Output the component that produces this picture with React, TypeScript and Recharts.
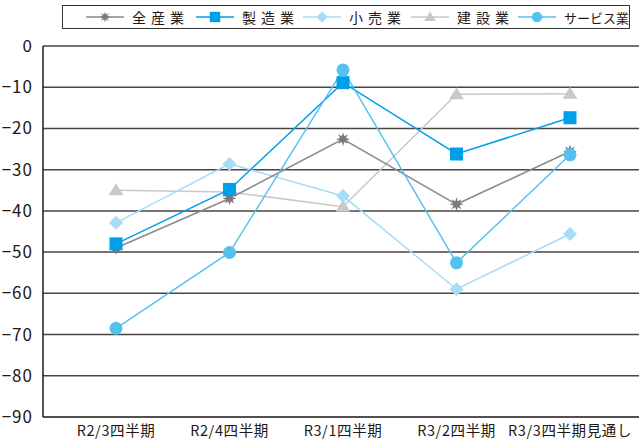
import React from 'react';
import { LineChart, Line, XAxis, YAxis, CartesianGrid } from 'recharts';

const categories = ['R2/3四半期', 'R2/4四半期', 'R3/1四半期', 'R3/2四半期', 'R3/3四半期見通し'];
const allIndustry = [-49, -37, -22.6, -38.4, -25.6];
const manufacturing = [-48, -34.8, -8.9, -26.2, -17.4];
const retail = [-42.9, -28.6, -36.4, -59, -45.6];
const construction = [-35, -35.4, -39, -11.7, -11.6];
const services = [-68.5, -50.1, -5.8, -52.6, -26.4];
const yTicks = [0, -10, -20, -30, -40, -50, -60, -70, -80, -90];

const seriesNames = ['全産業', '製造業', '小売業', '建設業', 'サービス業'];

const data = categories.map((c, i) => ({
  name: c,
  all: allIndustry[i],
  manu: manufacturing[i],
  retail: retail[i],
  cons: construction[i],
  serv: services[i],
}));

const FONT = '"Noto Sans CJK JP", "Noto Sans", sans-serif';

function Marker({ kind, cx, cy, color, s = 1 }: { kind: string; cx: number; cy: number; color: string; s?: number }) {
  if (kind === 'star') {
    const pts: string[] = [];
    for (let k = 0; k < 16; k++) {
      const r = (k % 2 === 0 ? 7 : 3.2) * s;
      const a = (Math.PI * k) / 8;
      pts.push(`${cx + r * Math.sin(a)},${cy - r * Math.cos(a)}`);
    }
    return <polygon points={pts.join(' ')} fill={color} />;
  }
  if (kind === 'square') return <rect x={cx - 6.5 * s} y={cy - 6.5 * s} width={13 * s} height={13 * s} fill={color} />;
  if (kind === 'diamond')
    return (
      <polygon
        points={`${cx},${cy - 7 * s} ${cx + 7 * s},${cy} ${cx},${cy + 7 * s} ${cx - 7 * s},${cy}`}
        fill={color}
      />
    );
  if (kind === 'triangle')
    return (
      <polygon
        points={`${cx},${cy - 7 * s} ${cx + 7.5 * s},${cy + 5 * s} ${cx - 7.5 * s},${cy + 5 * s}`}
        fill={color}
      />
    );
  return <circle cx={cx} cy={cy} r={6.5 * s} fill={color} />;
}

const series = [
  { key: 'all', name: seriesNames[0], line: '#8a8a8a', mark: '#7a7a7a', kind: 'star' },
  { key: 'manu', name: seriesNames[1], line: '#00a0e9', mark: '#00a0e9', kind: 'square' },
  { key: 'retail', name: seriesNames[2], line: '#a6dcf5', mark: '#a6dcf5', kind: 'diamond' },
  { key: 'cons', name: seriesNames[3], line: '#c9c9c9', mark: '#c9c9c9', kind: 'triangle' },
  { key: 'serv', name: seriesNames[4], line: '#55c1ef', mark: '#55c1ef', kind: 'circle' },
];

const drawOrder = ['cons', 'retail', 'all', 'manu', 'serv'];

const fmt = (v: number) => (v < 0 ? '−' + Math.abs(v) : String(v));

function LegendBox() {
  const itemLefts = [23, 133, 240, 348, 455];
  return (
    <div
      style={{
        position: 'absolute',
        left: 62,
        top: 5,
        width: 566,
        height: 22,
        border: '1px solid #333',
        background: '#fff',
        fontFamily: FONT,
        fontSize: 14,
        color: '#231815',
      }}
    >
      {series.map((s, i) => (
        <div
          key={s.key}
          style={{
            position: 'absolute',
            left: itemLefts[i],
            top: 0,
            height: 22,
            display: 'flex',
            alignItems: 'center',
            whiteSpace: 'nowrap',
          }}
        >
          <svg width={38} height={22}>
            <line x1={0} y1={11} x2={38} y2={11} stroke={s.line} strokeWidth={1.5} />
            <Marker kind={s.kind} cx={19} cy={11} color={s.mark} s={0.8} />
          </svg>
          <span style={{ marginLeft: 8, letterSpacing: i === 4 ? 0 : 5, fontSize: i === 4 ? 13 : 14 }}>{s.name}</span>
        </div>
      ))}
    </div>
  );
}

export default function App() {
  return (
    <div style={{ position: 'absolute', left: 0, top: 0, width: 639, height: 441, background: '#fff' }}>
      <LineChart width={639} height={441} data={data} margin={{ top: 46, right: 0, bottom: 0, left: 0 }}>
        <CartesianGrid vertical={false} stroke="#4a4543" strokeWidth={1.5} />
        <XAxis
          dataKey="name"
          tickLine={false}
          axisLine={{ stroke: '#4a4543', strokeWidth: 1.5 }}
          height={24}
          padding={{ left: 73, right: 69 }}
          tick={{ fontSize: 14.5, fill: '#231815', fontFamily: FONT, letterSpacing: 0.6 }}
          tickMargin={3}
          interval={0}
        />
        <YAxis
          domain={[-90, 0]}
          ticks={yTicks}
          tickFormatter={fmt}
          width={43}
          tickLine={false}
          axisLine={{ stroke: '#231815', strokeWidth: 1.5 }}
          tick={{ fontSize: 17, fill: '#231815', fontFamily: FONT, letterSpacing: 1 }}
          tickMargin={4}
          allowDataOverflow
        />
        {drawOrder.map((k) => {
          const s = series.find((x) => x.key === k)!;
          return (
            <Line
              key={s.key}
              dataKey={s.key}
              name={s.name}
              stroke={s.line}
              strokeWidth={1.5}
              isAnimationActive={false}
              dot={(p: any) => <Marker key={`${s.key}-${p.index}`} kind={s.kind} cx={p.cx} cy={p.cy} color={s.mark} />}
              activeDot={false}
            />
          );
        })}
      </LineChart>
      <LegendBox />
    </div>
  );
}
